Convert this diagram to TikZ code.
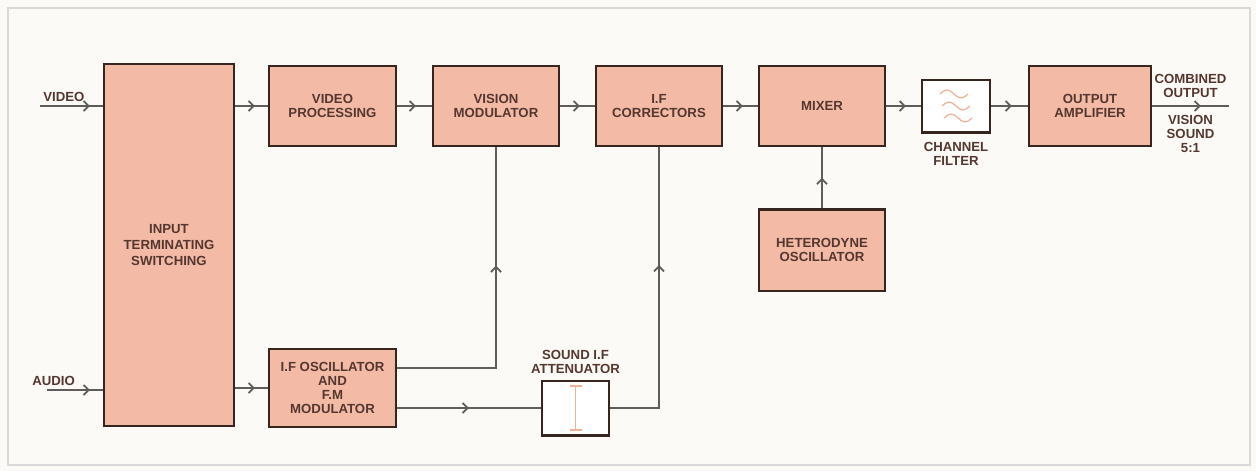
\documentclass[tikz,border=0pt]{standalone}
\usepackage{fontspec}
\setmainfont{Liberation Sans}
\usepackage{xcolor}
\usepackage{tikz}
\usetikzlibrary{arrows.meta,positioning,calc,decorations.markings}
\definecolor{boxfill}{RGB}{243,186,165}
\definecolor{boxline}{RGB}{55,38,32}
\definecolor{wirecol}{RGB}{95,92,90}
\definecolor{txtcol}{RGB}{85,55,48}
\definecolor{symcol}{RGB}{238,178,150}
\definecolor{pagecol}{RGB}{251,250,247}
\begin{document}
\begin{tikzpicture}[node distance=17.5pt,
  box/.style={draw=boxline,line width=1.2pt,fill=boxfill,minimum width=62.8pt,minimum height=40pt,align=center,inner sep=1pt},
  wbox/.style={draw=boxline,line width=1.2pt,fill=white,inner sep=0pt},
  lbl/.style={align=center,inner sep=1pt},
  wire/.style={draw=wirecol,line width=0.9pt},
  tipend/.style={postaction={decorate},decoration={markings,mark=at position #1 with {\arrow{Straight Barb[length=2.6pt,width=5pt,line width=0.9pt]}}}},
  every node/.append style={font=\bfseries\fontsize{6.6}{7.1}\selectfont,text=txtcol}]
\useasboundingbox (0,0) rectangle (628pt,-235.5pt);
\fill[pagecol] (0,0) rectangle (628pt,-235.5pt);
\draw[black!15,line width=0.6pt] (4pt,-4pt) rectangle (625pt,-232.5pt);
% top row
\node[box,minimum width=64.8pt,minimum height=181pt,font=\bfseries\fontsize{6.6}{8}\selectfont] (input) at (84.5pt,-122.5pt) {INPUT\\TERMINATING\\SWITCHING};
\node[box,minimum width=63.3pt] (vproc) at (166.25pt,-53pt) {VIDEO\\PROCESSING};
\node[box, right=of vproc] (vmod) {VISION\\MODULATOR};
\node[box, right=of vmod] (ifcor) {I.F\\CORRECTORS};
\node[box, right=of ifcor] (mixer) {MIXER};
\node[wbox, minimum width=33.8pt, minimum height=26.3pt, right=of mixer] (filter) {};
\node[box, minimum width=60.8pt, right=18.5pt of filter] (outamp) {OUTPUT\\AMPLIFIER};
\node[box, minimum height=40.8pt, below=30.5pt of mixer] (hetero) {HETERODYNE\\OSCILLATOR};
% bottom row
\node[box, minimum width=63.3pt, minimum height=39pt] (ifosc) at (166.25pt,-194pt) {I.F OSCILLATOR\\AND\\F.M\\MODULATOR};
\node[wbox, minimum width=33.3pt, minimum height=27.3pt] (atten) at (287.75pt,-204pt) {};
\node[lbl, below=3pt of filter] (filterlbl) {CHANNEL\\FILTER};
\node[lbl, above=1.5pt of atten] (attenlbl) {SOUND I.F\\ATTENUATOR};
% symbols
\foreach \dy/\dx in {6/-1,0/0,-6/1}
  \draw[symcol,line width=0.6pt] ([xshift=\dx pt-7pt,yshift=\dy pt]filter.center) sin ++(3.5pt,2pt) cos ++(3.5pt,-2pt) sin ++(3.5pt,-2pt) cos ++(3.5pt,2pt);
\draw[symcol,line width=0.6pt] ([yshift=11pt]atten.center) -- ([yshift=-11pt]atten.center)
  ([xshift=-3pt,yshift=11pt]atten.center) -- ([xshift=3pt,yshift=11pt]atten.center)
  ([xshift=-3pt,yshift=-11pt]atten.center) -- ([xshift=3pt,yshift=-11pt]atten.center);
% inputs
\coordinate (vin) at (20pt,-53pt);
\coordinate (ain) at (23.5pt,-195pt);
\node[lbl, anchor=south west, xshift=0.5pt, yshift=1pt] (videolbl) at (vin) {VIDEO};
\node[lbl, anchor=south west, xshift=-8.5pt, yshift=1pt] (audiolbl) at (ain) {AUDIO};
\draw[wire,tipend=-6.5pt] (vin) -- (vin -| input.west);
\draw[wire,tipend=-6.5pt] (ain) -- (ain -| input.west);
\draw[wire,tipend=-6.5pt] (input.east |- vproc) -- (vproc);
\draw[wire,tipend=-6.5pt] (input.east |- ifosc) -- (ifosc);
% main chain
\draw[wire,tipend=-8pt] (vproc) -- (vmod);
\draw[wire,tipend=-7.5pt] (vmod) -- (ifcor);
\draw[wire,tipend=-7.5pt] (ifcor) -- (mixer);
\draw[wire,tipend=-7.5pt] (mixer) -- (filter);
\draw[wire,tipend=-8pt] (filter) -- (outamp);
\draw[wire,tipend=0.5] (hetero) -- (mixer);
% output
\coordinate[right=38.5pt of outamp.east] (oend);
\draw[wire,tipend=-14pt] (outamp.east) -- (oend)
  node[lbl,midway,above=2.5pt] (comblbl) {COMBINED\\OUTPUT}
  node[lbl,midway,below=3pt] (ratiolbl) {VISION\\SOUND\\5:1};
% sound paths
\draw[wire,tipend=0.63] ([yshift=10pt]ifosc.east) -| (vmod.south);
\draw[wire,tipend=0.5] (ifosc.east |- atten) -- (atten.west);
\draw[wire,tipend=0.62] (atten.east) -| (ifcor.south);
\end{tikzpicture}
\end{document}
